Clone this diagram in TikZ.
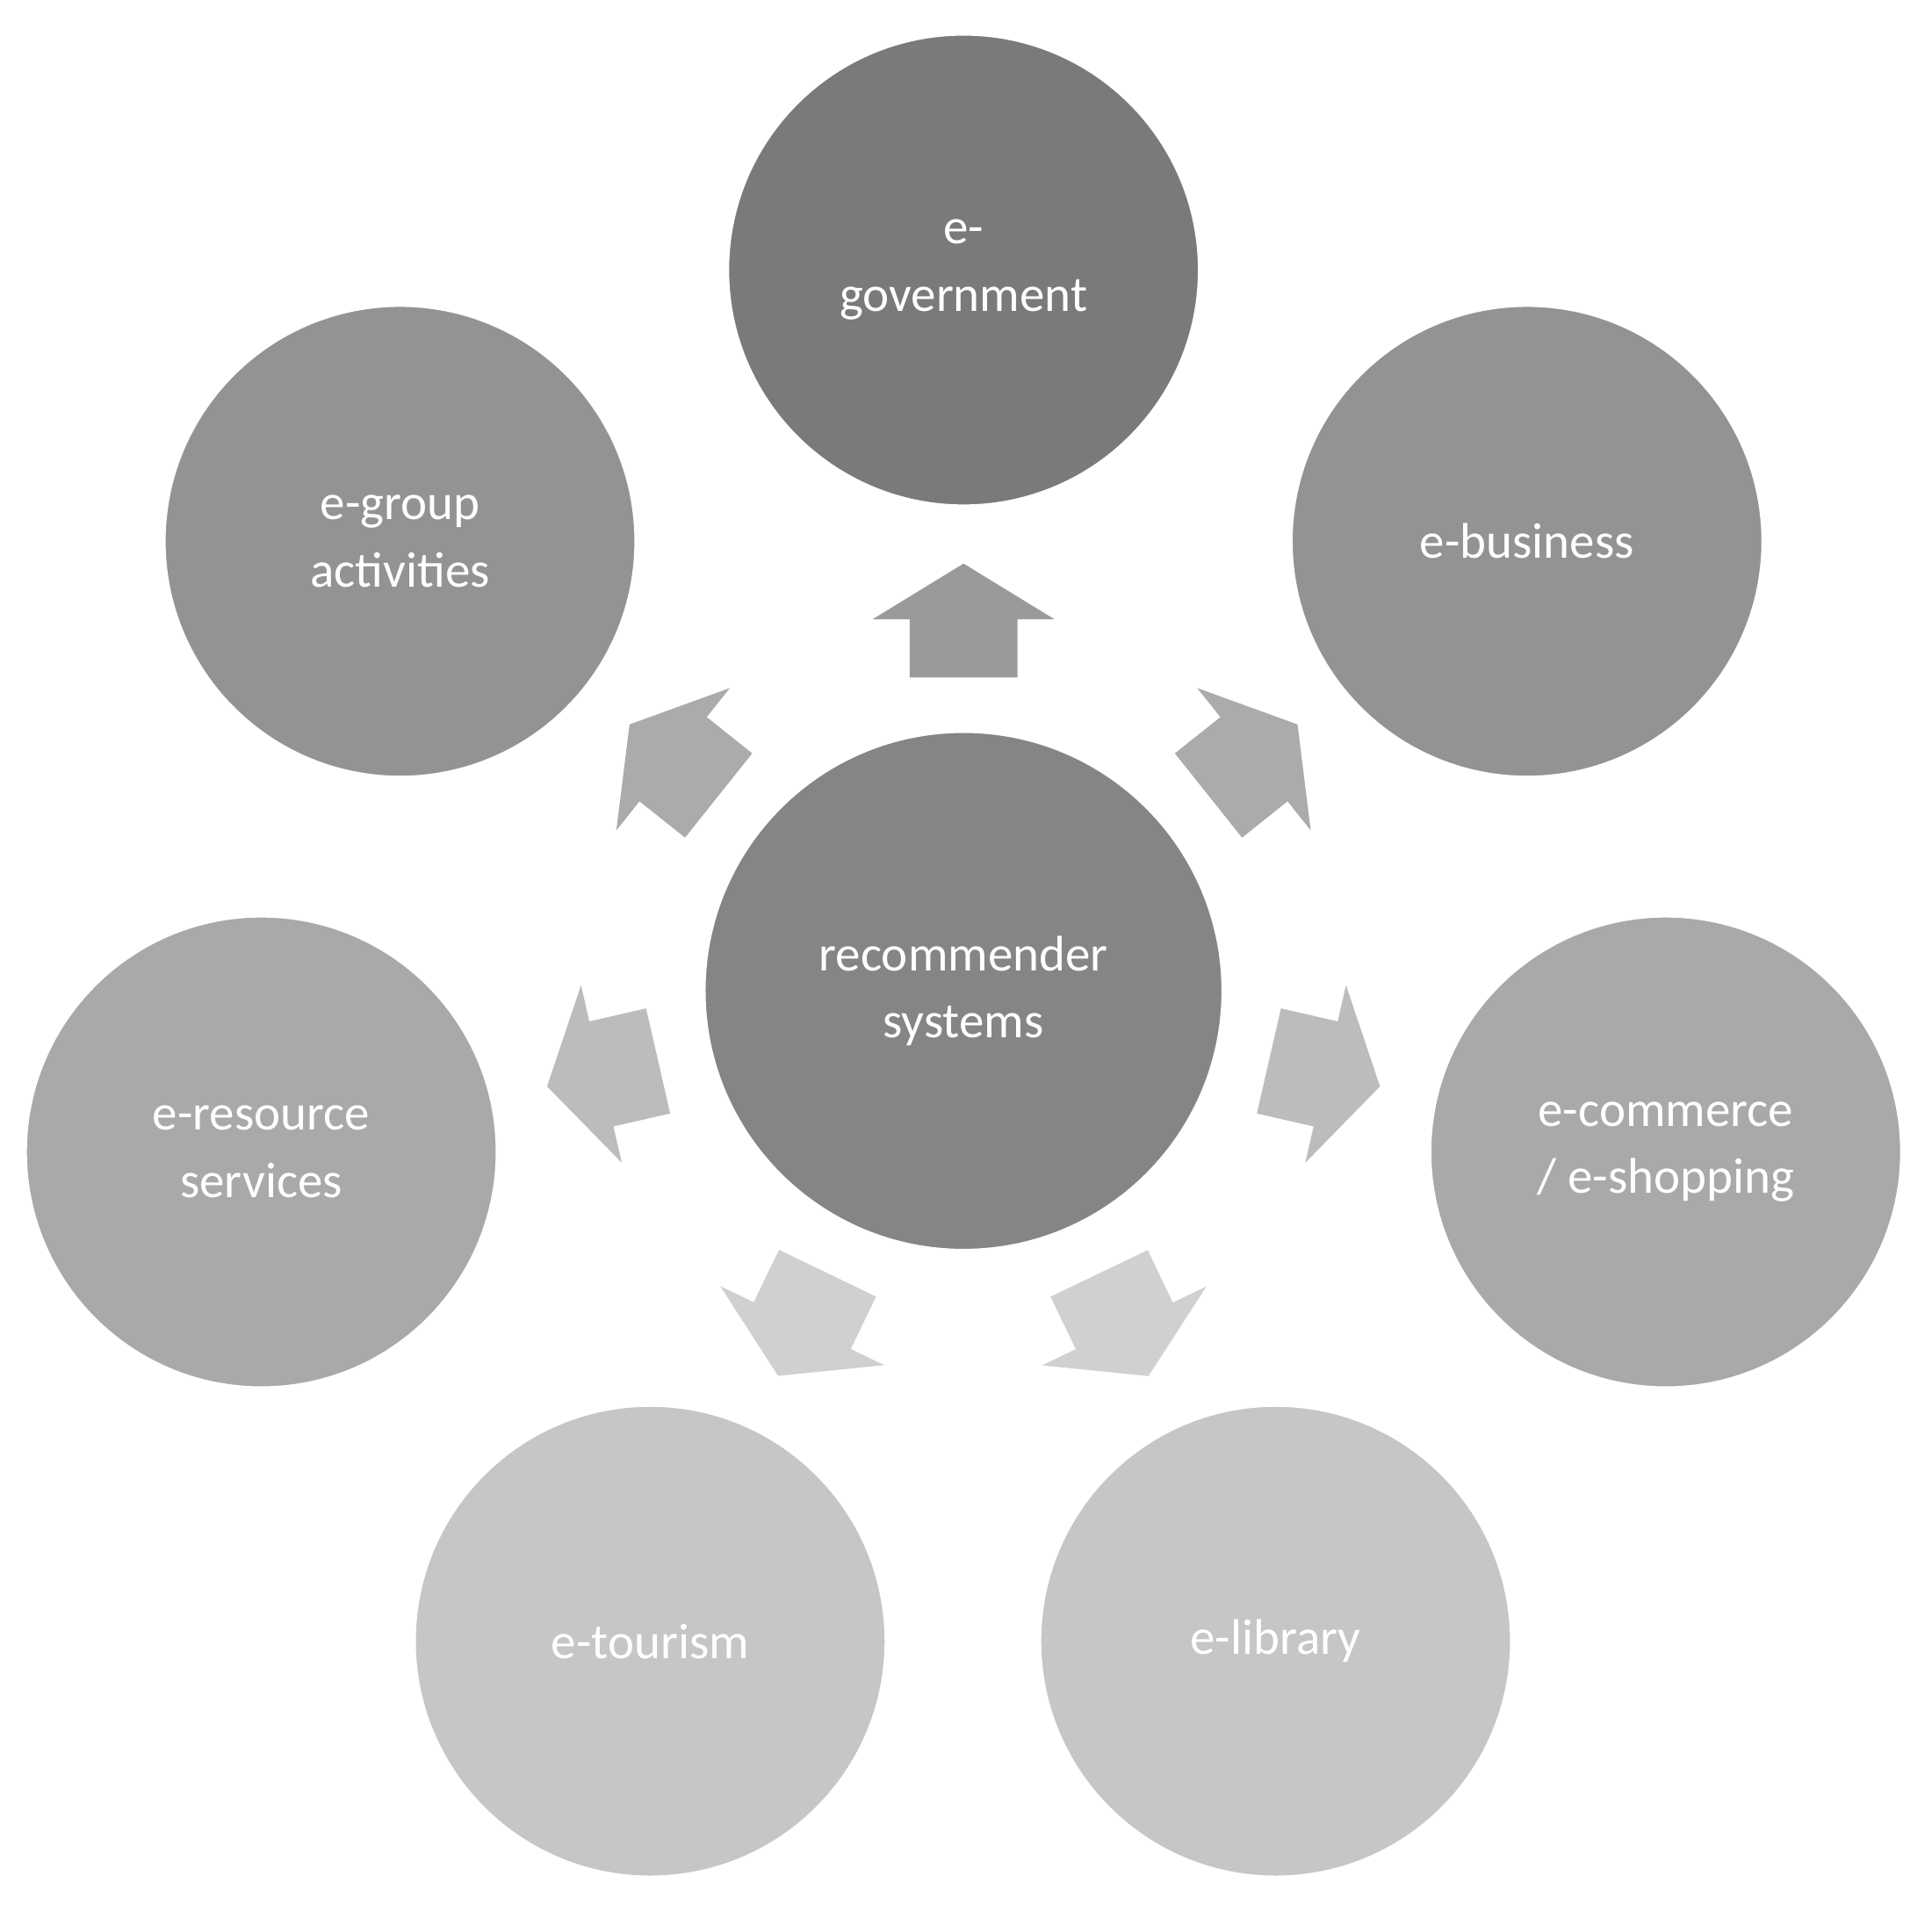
\documentclass[tikz,border=0pt]{standalone}
\usepackage{fontspec}
\setmainfont{Carlito}
\begin{document}
\begin{tikzpicture}[x=0.01cm,y=-0.01cm,
  circ/.style={circle,draw=white,line width=2.2pt,text=white,align=center,
    font=\fontsize{11.5}{15.5}\selectfont,inner sep=0pt},
  blk/.style={draw=none}]
\useasboundingbox (0,0) rectangle (1560,1538);
\fill[white] (0,0) rectangle (1560,1538);
\definecolor{cgov}{HTML}{7A7A7A}
\definecolor{ccen}{HTML}{858585}
\definecolor{cbus}{HTML}{939393}
\definecolor{ccom}{HTML}{A9A9A9}
\definecolor{ctou}{HTML}{C6C6C6}
\definecolor{aup}{HTML}{9A9A9A}
\definecolor{adiag}{HTML}{ABABAB}
\definecolor{aside}{HTML}{BCBCBC}
\definecolor{abot}{HTML}{D0D0D0}
\node[circ,fill=ccen,minimum size=4.24cm] (c) at (778,800) {recommender\\systems};
\node[circ,fill=cgov,minimum size=3.86cm] (gov) at (778,218) {e-\\government};
\node[circ,fill=cbus,minimum size=3.86cm] (bus) at (1233,437) {e-business};
\node[circ,fill=cbus,minimum size=3.86cm] (grp) at (323,437) {e-group\\activities};
\node[circ,fill=ccom,minimum size=3.86cm] (com) at (1345,930) {e-commerce\\/ e-shopping};
\node[circ,fill=ccom,minimum size=3.86cm] (res) at (211,930) {e-resource\\services};
\node[circ,fill=ctou,minimum size=3.86cm] (tou) at (525,1325) {e-tourism};
\node[circ,fill=ctou,minimum size=3.86cm] (lib) at (1030,1325) {e-library};
\foreach \t/\col in {gov/aup,bus/adiag,grp/adiag,com/aside,res/aside,tou/abot,lib/abot}{
  \path (c.center) -- (\t.center) coordinate[pos=0] (s) coordinate[pos=1] (e);
  \pgfmathanglebetweenpoints{\pgfpointanchor{c}{center}}{\pgfpointanchor{\t}{center}}
  \let\ang\pgfmathresult
  \begin{scope}[shift={(c.center)},rotate=\ang,x=0.01cm,y=0.01cm]
    \fill[\col] (253,-43.5) -- (300,-43.5) -- (300,-73.5) -- (345,0) -- (300,73.5) -- (300,43.5) -- (253,43.5) -- cycle;
  \end{scope}
}
\end{tikzpicture}
\end{document}
